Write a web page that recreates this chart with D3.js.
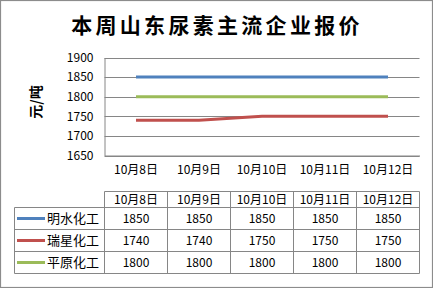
<!DOCTYPE html>
<html><head><meta charset="utf-8">
<script src="https://cdn.jsdelivr.net/npm/d3@7"></script>
<style>
html,body{margin:0;padding:0;background:#fff;}
svg{display:block;}
text{font-family:"Noto Sans CJK SC","DejaVu Sans",sans-serif;}
</style></head>
<body>
<svg id="c" width="433" height="288"></svg>
<script>
const title = "本周山东尿素主流企业报价";
const yTitle = "元/吨";
const categories = ["10月8日","10月9日","10月10日","10月11日","10月12日"];
const seriesNames = ["明水化工","瑞星化工","平原化工"];
const mingshui = [1850,1850,1850,1850,1850];
const ruixing = [1740,1740,1750,1750,1750];
const pingyuan = [1800,1800,1800,1800,1800];
const yTicks = [1650,1700,1750,1800,1850,1900];
const colors = ["#4F81BD","#C0504D","#9BBB59"];

const series = [mingshui, ruixing, pingyuan].map((v,i)=>({name:seriesNames[i], values:v, color:colors[i]}));

const svg = d3.select("#c");
const grid = "#868686";

svg.append("rect").attr("x",0.5).attr("y",0.5).attr("width",432).attr("height",287)
  .attr("fill","#fff").attr("stroke","#8c8c8c").attr("stroke-width",1.2);

svg.append("text").attr("x",217).attr("y",33).attr("text-anchor","middle")
  .attr("font-size",21).attr("font-weight","bold").attr("letter-spacing",3.3).attr("fill","#000")
  .text(title);

const x = d3.scaleBand().domain(categories).range([104.5,419.5]);
const y = d3.scaleLinear().domain([1650,1900]).range([155.5,57.5]);

// gridlines
svg.append("g").selectAll("line").data(yTicks).join("line")
  .attr("x1",104.5).attr("x2",419.5)
  .attr("y1",d=>Math.round(y(d))+0.5).attr("y2",d=>Math.round(y(d))+0.5)
  .attr("stroke",grid).attr("stroke-width",1);

// y axis
const yAxis = svg.append("g").attr("transform","translate(104.5,0)")
  .call(d3.axisLeft(y).tickValues(yTicks).tickSize(0).tickPadding(11).tickFormat(d3.format("d")));
yAxis.select(".domain").attr("stroke",grid);
yAxis.selectAll("text").attr("font-size",12).attr("fill","#000").attr("font-family","\"Liberation Sans\",sans-serif");

// x axis labels
const xAxis = svg.append("g").attr("transform","translate(0,155.5)")
  .call(d3.axisBottom(x).tickSize(0).tickPadding(10));
xAxis.select(".domain").attr("stroke",grid);
xAxis.selectAll("text").attr("font-size",12).attr("fill","#000");

svg.append("text").attr("transform","translate(41,102) rotate(-90)").attr("text-anchor","middle")
  .attr("font-size",14).attr("font-weight","bold").text(yTitle);

const line = d3.line().x((d,i)=>x(categories[i])+x.bandwidth()/2).y(d=>y(d));
svg.append("g").selectAll("path").data(series).join("path")
  .attr("d",d=>line(d.values)).attr("fill","none").attr("stroke",d=>d.color).attr("stroke-width",3);

// data table
const tTop = 191.5, hH = 16, rH = 22, tLeft = 14.5;
const tb = svg.append("g").attr("stroke",grid).attr("stroke-width",1);
tb.append("line").attr("x1",104.5).attr("x2",419.5).attr("y1",tTop).attr("y2",tTop);
d3.range(4).forEach(i=>{
  const yy = tTop+hH+i*rH;
  tb.append("line").attr("x1",tLeft).attr("x2",419.5).attr("y1",yy).attr("y2",yy);
});
tb.append("line").attr("x1",tLeft).attr("x2",tLeft).attr("y1",tTop+hH).attr("y2",tTop+hH+3*rH);
const colEdges = categories.map(c=>x(c)).concat([x(categories[categories.length-1])+x.bandwidth()]);
colEdges.forEach(e=>{
  tb.append("line").attr("x1",e).attr("x2",e).attr("y1",tTop).attr("y2",tTop+hH+3*rH);
});
svg.append("g").selectAll("text").data(categories).join("text")
  .attr("x",d=>x(d)+x.bandwidth()/2).attr("y",tTop+hH/2+4.5).attr("text-anchor","middle")
  .attr("font-size",12).text(d=>d);
series.forEach((s,i)=>{
  const cy = tTop+hH+i*rH+rH/2;
  svg.append("line").attr("x1",17).attr("x2",45).attr("y1",cy).attr("y2",cy)
    .attr("stroke",s.color).attr("stroke-width",3);
  svg.append("text").attr("x",47).attr("y",cy+4.5).attr("font-size",13).text(s.name);
  svg.append("g").selectAll("text").data(s.values).join("text")
    .attr("x",(d,j)=>x(categories[j])+x.bandwidth()/2).attr("y",cy+4.5).attr("text-anchor","middle")
    .attr("font-size",12).attr("font-family","\"Liberation Sans\",sans-serif").text(d=>d);
});
</script>
</body></html>
